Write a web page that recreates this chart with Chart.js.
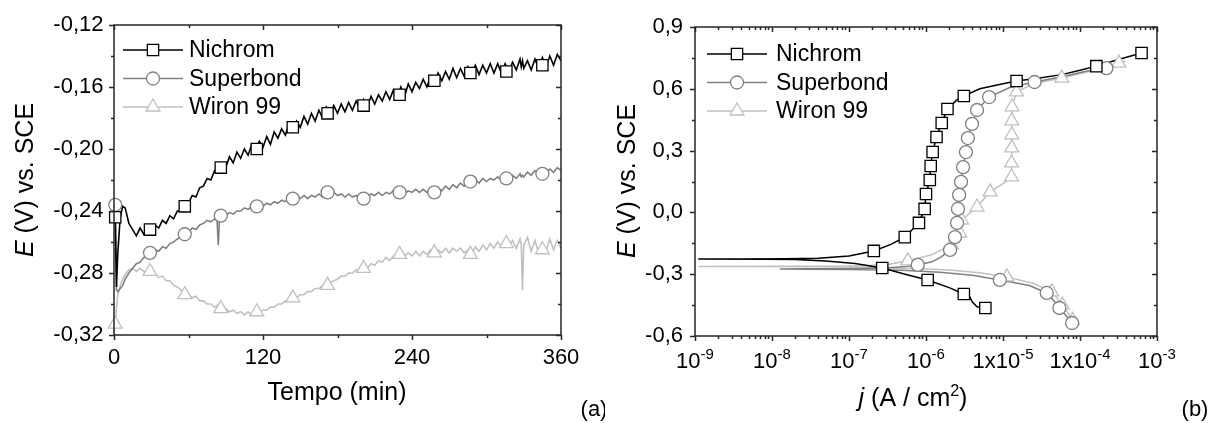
<!DOCTYPE html>
<html>
<head>
<meta charset="utf-8">
<script src="https://cdn.jsdelivr.net/npm/chart.js@4.4.0/dist/chart.umd.min.js"></script>
<style>
  html, body { margin: 0; padding: 0; background: #fff; }
  #wrap { position: relative; width: 1209px; height: 423px; overflow: hidden; }
  canvas { position: absolute; top: 0; }
  #cA { left: 0; }
  #cB { left: 605px; }
</style>
</head>
<body>
<div id="wrap">
  <canvas id="cA" width="605" height="423"></canvas>
  <canvas id="cB" width="604" height="423"></canvas>
</div>
<script>
// ---------- (a) potencial de circuito aberto ----------
const series = ['Nichrom', 'Superbond', 'Wiron 99'];

const tempo = [
  0, 1, 2, 3, 5, 7, 9, 12,
  15, 18, 21, 24, 27, 30, 33, 36, 39, 42, 45, 48,
  51, 54, 57, 60, 63, 66, 69, 72, 75, 78, 81,
  83, 84, 85,
  87, 90, 93, 96, 99, 102, 105, 108, 111, 114, 117, 120,
  123, 126, 129, 132, 135, 138, 141, 144, 147, 150, 153, 156,
  159, 162, 165, 168, 171, 174, 177, 180, 183, 186, 189, 192,
  195, 198, 201, 204, 207, 210, 213, 216, 219, 222, 225, 228,
  231, 234, 237, 240, 243, 246, 249, 252, 255, 258, 261, 264,
  267, 270, 273, 276, 279, 282, 285, 288, 291, 294, 297, 300,
  303, 306, 309, 312, 315, 318, 321, 324, 327,
  328, 329,
  330, 333, 336, 339, 342, 345, 348, 351, 354, 357, 360
];

const ocpNichrom = [
  -0.243, -0.244, -0.289, -0.268, -0.244, -0.237, -0.238, -0.248,
  -0.252, -0.256, -0.251, -0.255, -0.250, -0.254, -0.249, -0.251, -0.246, -0.248, -0.243, -0.245,
  -0.240, -0.240, -0.236, -0.235, -0.230, -0.231, -0.225, -0.224, -0.219, -0.220, -0.214,
  -0.215, -0.213, -0.211,
  -0.209, -0.212, -0.205, -0.209, -0.202, -0.206, -0.200, -0.204, -0.197, -0.201, -0.195, -0.199,
  -0.192, -0.197, -0.189, -0.193, -0.187, -0.191, -0.184, -0.189, -0.182, -0.186, -0.179, -0.184,
  -0.177, -0.182, -0.175, -0.180, -0.173, -0.178, -0.172, -0.177, -0.171, -0.176, -0.170, -0.175,
  -0.169, -0.174, -0.168, -0.173, -0.166, -0.171, -0.165, -0.169, -0.163, -0.168, -0.162, -0.167,
  -0.160, -0.166, -0.158, -0.163, -0.157, -0.161, -0.155, -0.160, -0.153, -0.158, -0.151, -0.156,
  -0.150, -0.155, -0.148, -0.154, -0.148, -0.153, -0.147, -0.152, -0.146, -0.152, -0.146, -0.151,
  -0.145, -0.151, -0.145, -0.151, -0.145, -0.150, -0.144, -0.149, -0.142,
  -0.147, -0.143,
  -0.148, -0.143, -0.149, -0.142, -0.148, -0.141, -0.147, -0.140, -0.146, -0.139, -0.143
];

const ocpSuperbond = [
  -0.235, -0.236, -0.291, -0.292, -0.290, -0.288, -0.284, -0.280,
  -0.277, -0.274, -0.273, -0.270, -0.268, -0.267, -0.265, -0.266, -0.263, -0.264, -0.261, -0.260,
  -0.258, -0.257, -0.255, -0.254, -0.251, -0.252, -0.249, -0.248, -0.246, -0.247, -0.245,
  -0.246, -0.262, -0.244,
  -0.243, -0.243, -0.241, -0.242, -0.240, -0.240, -0.238, -0.239, -0.237, -0.238, -0.236, -0.237,
  -0.235, -0.236, -0.234, -0.235, -0.233, -0.234, -0.232, -0.233, -0.231, -0.232, -0.230, -0.232,
  -0.230, -0.231, -0.229, -0.231, -0.228, -0.230, -0.228, -0.230, -0.229, -0.231, -0.229, -0.231,
  -0.230, -0.232, -0.230, -0.231, -0.229, -0.230, -0.228, -0.230, -0.228, -0.229, -0.227, -0.229,
  -0.227, -0.229, -0.227, -0.228, -0.226, -0.228, -0.226, -0.228, -0.226, -0.228, -0.225, -0.227,
  -0.224, -0.226, -0.223, -0.225, -0.222, -0.224, -0.221, -0.223, -0.220, -0.222, -0.219, -0.221,
  -0.219, -0.220, -0.218, -0.220, -0.218, -0.219, -0.217, -0.219, -0.216,
  -0.218, -0.217,
  -0.218, -0.215, -0.217, -0.214, -0.216, -0.214, -0.215, -0.213, -0.215, -0.212, -0.214
];

const ocpWiron = [
  -0.318, -0.313, -0.302, -0.295, -0.288, -0.284, -0.281, -0.278,
  -0.277, -0.279, -0.277, -0.279, -0.279, -0.281, -0.280, -0.283, -0.282, -0.285, -0.285, -0.288,
  -0.289, -0.291, -0.293, -0.294, -0.296, -0.295, -0.298, -0.298, -0.300, -0.300, -0.302,
  -0.301, -0.303, -0.302,
  -0.304, -0.303, -0.305, -0.304, -0.306, -0.305, -0.307, -0.305, -0.307, -0.305, -0.306, -0.304,
  -0.304, -0.302, -0.302, -0.300, -0.300, -0.298, -0.298, -0.296, -0.296, -0.294, -0.294, -0.292,
  -0.292, -0.290, -0.290, -0.288, -0.288, -0.286, -0.285, -0.284, -0.282, -0.282, -0.280, -0.280,
  -0.278, -0.279, -0.276, -0.277, -0.274, -0.275, -0.272, -0.273, -0.270, -0.272, -0.269, -0.270,
  -0.267, -0.269, -0.267, -0.269, -0.266, -0.269, -0.266, -0.268, -0.265, -0.267, -0.265, -0.267,
  -0.264, -0.267, -0.264, -0.266, -0.264, -0.267, -0.265, -0.268, -0.263, -0.266, -0.262, -0.265,
  -0.261, -0.264, -0.260, -0.263, -0.260, -0.263, -0.259, -0.264, -0.258,
  -0.262, -0.291,
  -0.262, -0.257, -0.266, -0.259, -0.267, -0.261, -0.266, -0.258, -0.265, -0.259, -0.264
];

// simbolos (um a cada ~29 min)
const tempoSimb = [1, 29, 57, 86, 115, 144, 172, 201, 230, 258, 287, 316, 345];
const simbNichrom   = [-0.244, -0.252, -0.237, -0.212, -0.200, -0.186, -0.177, -0.172, -0.165, -0.156, -0.151, -0.150, -0.146];
const simbSuperbond = [-0.236, -0.267, -0.255, -0.243, -0.237, -0.232, -0.228, -0.232, -0.228, -0.228, -0.221, -0.219, -0.216];
const simbWiron     = [-0.313, -0.279, -0.294, -0.303, -0.305, -0.296, -0.288, -0.277, -0.268, -0.267, -0.268, -0.261, -0.265];

const ticksTempo = [0, 120, 240, 360];
const ticksOcp = [-0.32, -0.28, -0.24, -0.20, -0.16, -0.12];

// ---------- (b) curvas de polarizacao ----------
const jNichrom = [5.9e-6, 4.6e-6, 4.0e-6, 3.7e-6, 3.1e-6, 2.0e-6, 1.05e-6, 6.0e-7, 2.7e-7, 1.2e-7, 5.0e-8, 2.0e-8, 8e-9, 1.1e-9,
  4e-9, 1.5e-8, 4e-8, 1.0e-7, 2.1e-7, 3.5e-7, 5.3e-7, 8.1e-7, 9.6e-7, 1.0e-6, 1.12e-6, 1.15e-6, 1.22e-6, 1.37e-6,
  1.6e-6, 1.9e-6, 2.5e-6, 3.1e-6, 5.0e-6, 1.0e-5, 1.5e-5, 3.0e-5, 6.0e-5, 1.0e-4, 1.63e-4, 3.0e-4, 6.3e-4];
const eNichrom = [-0.464, -0.458, -0.435, -0.410, -0.396, -0.365, -0.328, -0.305, -0.270, -0.248, -0.236, -0.229, -0.227, -0.2265,
  -0.226, -0.225, -0.222, -0.212, -0.187, -0.155, -0.120, -0.051, 0.017, 0.089, 0.157, 0.225, 0.293, 0.366,
  0.434, 0.502, 0.545, 0.565, 0.600, 0.625, 0.638, 0.652, 0.670, 0.690, 0.710, 0.740, 0.774];

const jSuperbond = [8.0e-5, 7.3e-5, 6.2e-5, 5.4e-5, 4.5e-5, 3.7e-5, 2.2e-5, 9.1e-6, 4.0e-6, 1.5e-6, 5.0e-7, 1.0e-7, 3.0e-8, 1.26e-8,
  3.0e-8, 1.0e-7, 3.0e-7, 5.5e-7, 7.8e-7, 1.2e-6, 1.6e-6, 2.05e-6, 2.38e-6, 2.53e-6, 2.6e-6, 2.69e-6, 2.85e-6, 3.03e-6,
  3.3e-6, 3.5e-6, 3.96e-6, 4.6e-6, 6.6e-6, 1.2e-5, 2.57e-5, 6.0e-5, 1.2e-4, 2.2e-4, 3.5e-4];
const eSuperbond = [-0.545, -0.520, -0.490, -0.464, -0.425, -0.391, -0.355, -0.328, -0.305, -0.290, -0.281, -0.277, -0.276, -0.275,
  -0.274, -0.273, -0.270, -0.263, -0.255, -0.240, -0.215, -0.182, -0.120, -0.051, 0.017, 0.085, 0.148, 0.220,
  0.293, 0.361, 0.430, 0.497, 0.560, 0.605, 0.633, 0.660, 0.685, 0.700, 0.720];

const jWiron = [8.5e-5, 7.9e-5, 7.0e-5, 5.9e-5, 5.0e-5, 4.3e-5, 2.5e-5, 1.12e-5, 5.0e-6, 2.0e-6, 7.0e-7, 2.0e-7, 5.0e-8, 1.0e-8,
  1.1e-9, 1.0e-8, 1.0e-7, 3.0e-7, 5.8e-7, 1.2e-6, 2.15e-6, 2.75e-6, 2.9e-6, 4.6e-6, 6.8e-6, 1.0e-5, 1.29e-5, 1.29e-5,
  1.3e-5, 1.3e-5, 1.3e-5, 1.31e-5, 1.5e-5, 2.5e-5, 5.8e-5, 1.2e-4, 3.2e-4, 3.9e-4];
const eWiron = [-0.535, -0.522, -0.490, -0.450, -0.415, -0.386, -0.345, -0.313, -0.293, -0.280, -0.272, -0.267, -0.264, -0.263,
  -0.2625, -0.262, -0.260, -0.255, -0.235, -0.205, -0.158, -0.100, -0.037, 0.026, 0.100, 0.140, 0.172, 0.240,
  0.313, 0.376, 0.444, 0.512, 0.585, 0.625, 0.652, 0.680, 0.725, 0.735];

const jNichromSimb = [5.9e-6, 3.1e-6, 1.05e-6, 2.7e-7, 2.1e-7, 5.3e-7, 8.1e-7, 9.6e-7, 1.0e-6, 1.12e-6, 1.15e-6, 1.22e-6, 1.37e-6, 1.6e-6, 1.9e-6, 3.1e-6, 1.5e-5, 1.63e-4, 6.3e-4];
const eNichromSimb = [-0.464, -0.396, -0.328, -0.270, -0.187, -0.120, -0.051, 0.017, 0.089, 0.157, 0.225, 0.293, 0.366, 0.434, 0.502, 0.565, 0.638, 0.710, 0.774];
const jSuperbondSimb = [7.9e-5, 5.4e-5, 3.7e-5, 9.1e-6, 7.8e-7, 2.05e-6, 2.38e-6, 2.53e-6, 2.6e-6, 2.69e-6, 2.85e-6, 3.03e-6, 3.3e-6, 3.5e-6, 3.96e-6, 4.6e-6, 6.6e-6, 2.57e-5, 2.2e-4];
const eSuperbondSimb = [-0.537, -0.464, -0.391, -0.328, -0.255, -0.182, -0.120, -0.051, 0.017, 0.085, 0.148, 0.220, 0.293, 0.361, 0.430, 0.497, 0.560, 0.633, 0.700];
const jWironSimb = [8.0e-5, 5.9e-5, 4.3e-5, 1.12e-5, 5.8e-7, 2.15e-6, 2.75e-6, 2.9e-6, 4.6e-6, 6.8e-6, 1.29e-5, 1.29e-5, 1.3e-5, 1.3e-5, 1.3e-5, 1.31e-5, 1.5e-5, 5.8e-5, 3.2e-4];
const eWironSimb = [-0.524, -0.450, -0.386, -0.313, -0.235, -0.158, -0.100, -0.037, 0.026, 0.100, 0.172, 0.240, 0.313, 0.376, 0.444, 0.512, 0.585, 0.652, 0.725];

const ticksE = [-0.6, -0.3, 0.0, 0.3, 0.6, 0.9];
const ticksJ = [1e-9, 1e-8, 1e-7, 1e-6, 1e-5, 1e-4, 1e-3];
const ticksJBase = ['10', '10', '10', '10', '1x10', '1x10', '10'];
const ticksJExp = ['-9', '-8', '-7', '-6', '-5', '-4', '-3'];

// ---------- estilo ----------
const FONTE = '"Liberation Sans", Arial, Helvetica, sans-serif';
const cores = ['#000000', '#808080', '#c0c0c0'];
const simbolos = ['rect', 'circle', 'triangle'];
const raios = [8, 6.5, 8];

function pares(xs, ys) { return xs.map((x, i) => ({ x: x, y: ys[i] })); }

function linha(xs, ys, k, w) {
  return { data: pares(xs, ys), borderColor: cores[k], borderWidth: w, pointRadius: 0, fill: false, tension: 0, order: 2 };
}
function marcas(xs, ys, k) {
  return {
    data: pares(xs, ys), showLine: false, pointStyle: simbolos[k], pointRadius: raios[k],
    pointBackgroundColor: '#ffffff', pointBorderColor: cores[k], pointBorderWidth: 1.3, clip: false, order: 1
  };
}

function desenhaSimbolo(ctx, estilo, r, x, y, cor) {
  ctx.beginPath();
  if (estilo === 'rect') {
    const h = r * Math.SQRT1_2;
    ctx.rect(x - h, y - h, 2 * h, 2 * h);
  } else if (estilo === 'circle') {
    ctx.arc(x, y, r, 0, Math.PI * 2);
  } else {
    ctx.moveTo(x, y - r);
    ctx.lineTo(x + r * 0.866, y + r * 0.5);
    ctx.lineTo(x - r * 0.866, y + r * 0.5);
    ctx.closePath();
  }
  ctx.fillStyle = '#fff';
  ctx.fill();
  ctx.strokeStyle = cor;
  ctx.lineWidth = 1.3;
  ctx.stroke();
}

// moldura + marcas de escala (maiores e menores)
const moldura = {
  id: 'moldura',
  afterDraw(chart, args, o) {
    const { ctx, chartArea: a, scales } = chart;
    const sx = scales.x, sy = scales.y;
    ctx.save();
    ctx.strokeStyle = '#262626';
    ctx.lineWidth = 1.5;
    ctx.strokeRect(a.left, a.top, a.right - a.left, a.bottom - a.top);
    ctx.beginPath();
    const tx = (v, len) => {
      const p = Math.round(sx.getPixelForValue(v)) + 0.5;
      ctx.moveTo(p, a.bottom); ctx.lineTo(p, a.bottom + len);
      ctx.moveTo(p, a.top); ctx.lineTo(p, a.top + len);
    };
    const ty = (v, len) => {
      const p = Math.round(sy.getPixelForValue(v)) + 0.5;
      ctx.moveTo(a.left, p); ctx.lineTo(a.left - len, p);
      ctx.moveTo(a.right, p); ctx.lineTo(a.right - len, p);
    };
    o.xMaior.forEach(v => tx(v, 5));
    o.xMenor.forEach(v => tx(v, 3));
    o.yMaior.forEach(v => ty(v, 5));
    o.yMenor.forEach(v => ty(v, 3));
    ctx.stroke();
    ctx.restore();
  }
};

const legenda = {
  id: 'legenda',
  afterDraw(chart, args, o) {
    const ctx = chart.ctx;
    ctx.save();
    series.forEach((nome, k) => {
      const y = o.y0 + k * o.dy;
      ctx.strokeStyle = cores[k];
      ctx.lineWidth = 1.4;
      ctx.beginPath(); ctx.moveTo(o.x0, y); ctx.lineTo(o.x1, y); ctx.stroke();
      desenhaSimbolo(ctx, simbolos[k], raios[k], (o.x0 + o.x1) / 2, y, cores[k]);
      ctx.fillStyle = '#000';
      ctx.font = '23px ' + FONTE;
      ctx.textAlign = 'left';
      ctx.textBaseline = 'middle';
      ctx.fillText(nome, o.xt, y + 1);
    });
    ctx.restore();
  }
};

// texto com partes em italico / sobrescrito
function partesTexto(ctx, partes, x, y, tam, rot) {
  const fonte = p => (p.f === 'i' ? 'italic ' : '') + (p.f === 's' ? Math.round(tam * 0.62) : tam) + 'px ' + FONTE;
  let total = 0;
  partes.forEach(p => { ctx.font = fonte(p); total += ctx.measureText(p.t).width; });
  ctx.save();
  ctx.translate(x, y);
  if (rot) ctx.rotate(-Math.PI / 2);
  ctx.fillStyle = '#000';
  ctx.textAlign = 'left';
  ctx.textBaseline = 'alphabetic';
  let cx = -total / 2;
  partes.forEach(p => {
    ctx.font = fonte(p);
    ctx.fillText(p.t, cx, p.f === 's' ? -tam * 0.42 : 0);
    cx += ctx.measureText(p.t).width;
  });
  ctx.restore();
}

const titulos = {
  id: 'titulos',
  afterDraw(chart, args, o) {
    const ctx = chart.ctx;
    o.textos.forEach(t => partesTexto(ctx, t.partes, t.x, t.y, t.tam, t.rot));
  }
};

// rotulos 10^n do eixo logaritmico
const rotulosLog = {
  id: 'rotulosLog',
  afterDraw(chart) {
    const { ctx, scales } = chart;
    ctx.save();
    ctx.fillStyle = '#000';
    ctx.textBaseline = 'alphabetic';
    ctx.textAlign = 'left';
    ticksJ.forEach((v, i) => {
      const p = scales.x.getPixelForValue(v);
      ctx.font = '22px ' + FONTE;
      const wb = ctx.measureText(ticksJBase[i]).width;
      ctx.font = '15px ' + FONTE;
      const we = ctx.measureText(ticksJExp[i]).width;
      const x0 = p - (wb + we) / 2;
      ctx.font = '22px ' + FONTE;
      ctx.fillText(ticksJBase[i], x0, 368);
      ctx.font = '15px ' + FONTE;
      ctx.fillText(ticksJExp[i], x0 + wb, 359);
    });
    ctx.restore();
  }
};

const virgula = (v, d) => (Math.abs(v) < 1e-9 ? 0 : v).toFixed(d).replace('.', ',');

function opcoesBase(larg, area, eixoX, eixoY, extras) {
  return {
    responsive: false,
    animation: false,
    devicePixelRatio: 1,
    layout: { padding: { left: 0, right: larg - area.right, top: area.top, bottom: 0 } },
    scales: {
      x: Object.assign({
        grid: { display: false, drawTicks: false },
        border: { display: false },
        afterFit: s => { s.height = 423 - area.bottom; }
      }, eixoX),
      y: Object.assign({
        grid: { display: false, drawTicks: false },
        border: { display: false },
        afterFit: s => { s.width = area.left; }
      }, eixoY)
    },
    plugins: Object.assign({ legend: { display: false }, tooltip: { enabled: false } }, extras)
  };
}

// ---------- grafico (a) ----------
new Chart(document.getElementById('cA'), {
  type: 'line',
  data: {
    datasets: [
      marcas(tempoSimb, simbNichrom, 0),
      marcas(tempoSimb, simbSuperbond, 1),
      marcas(tempoSimb, simbWiron, 2),
      linha(tempo, ocpNichrom, 0, 1.6),
      linha(tempo, ocpSuperbond, 1, 1.6),
      linha(tempo, ocpWiron, 2, 1.6)
    ]
  },
  options: opcoesBase(605, { left: 114, right: 561, top: 25, bottom: 335 },
    {
      type: 'linear', min: 0, max: 360,
      afterBuildTicks: s => { s.ticks = ticksTempo.map(v => ({ value: v })); },
      ticks: { padding: 10, color: '#000', font: { family: FONTE, size: 22 }, maxRotation: 0, autoSkip: false }
    },
    {
      type: 'linear', min: -0.32, max: -0.12,
      afterBuildTicks: s => { s.ticks = ticksOcp.map(v => ({ value: v })); },
      ticks: { padding: 10.5, color: '#000', font: { family: FONTE, size: 22 }, callback: v => virgula(v, 2) }
    },
    {
      moldura: { xMaior: ticksTempo, xMenor: [60, 180, 300], yMaior: ticksOcp, yMenor: [-0.30, -0.26, -0.22, -0.18, -0.14] },
      legenda: { x0: 123, x1: 183, xt: 189, y0: 50, dy: 28.5 },
      titulos: {
        textos: [
          { partes: [{ t: 'Tempo (min)', f: 'n' }], x: 337, y: 400, tam: 25 },
          { partes: [{ t: 'E', f: 'i' }, { t: ' (V) vs. SCE', f: 'n' }], x: 33, y: 180, tam: 25, rot: true },
          { partes: [{ t: '(a)', f: 'n' }], x: 594, y: 416, tam: 22 }
        ]
      }
    }),
  plugins: [moldura, legenda, titulos]
});

// ---------- grafico (b) ----------
const menoresJ = [];
for (let d = -9; d < -3; d++) for (let m = 2; m <= 9; m++) menoresJ.push(m * Math.pow(10, d));

new Chart(document.getElementById('cB'), {
  type: 'line',
  data: {
    datasets: [
      marcas(jNichromSimb, eNichromSimb, 0),
      marcas(jSuperbondSimb, eSuperbondSimb, 1),
      marcas(jWironSimb, eWironSimb, 2),
      linha(jNichrom, eNichrom, 0, 1.5),
      linha(jSuperbond, eSuperbond, 1, 1.5),
      linha(jWiron, eWiron, 2, 1.5)
    ]
  },
  options: opcoesBase(604, { left: 90, right: 552, top: 27, bottom: 336 },
    {
      type: 'logarithmic', min: 1e-9, max: 1e-3,
      ticks: { display: false }
    },
    {
      type: 'linear', min: -0.6, max: 0.9,
      afterBuildTicks: s => { s.ticks = ticksE.map(v => ({ value: v })); },
      ticks: { padding: 12, color: '#000', font: { family: FONTE, size: 22 }, callback: v => virgula(v, 1) }
    },
    {
      moldura: { xMaior: ticksJ, xMenor: menoresJ, yMaior: ticksE, yMenor: [-0.45, -0.15, 0.15, 0.45, 0.75] },
      legenda: { x0: 102, x1: 162, xt: 171, y0: 54, dy: 28.5 },
      titulos: {
        textos: [
          { partes: [{ t: 'j', f: 'i' }, { t: ' (A / cm', f: 'n' }, { t: '2', f: 's' }, { t: ')', f: 'n' }], x: 308, y: 406, tam: 25 },
          { partes: [{ t: 'E', f: 'i' }, { t: ' (V) vs. SCE', f: 'n' }], x: 30, y: 181, tam: 25, rot: true },
          { partes: [{ t: '(b)', f: 'n' }], x: 590, y: 416, tam: 22 }
        ]
      }
    }),
  plugins: [moldura, legenda, titulos, rotulosLog]
});
</script>
</body>
</html>
